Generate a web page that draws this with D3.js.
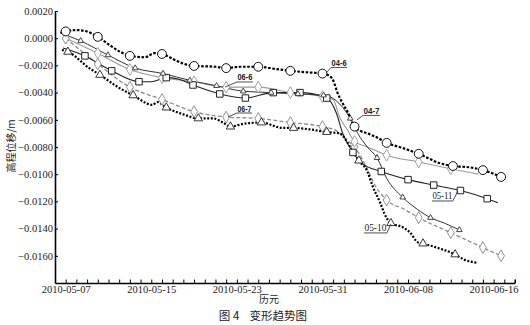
<!DOCTYPE html>
<html><head><meta charset="utf-8">
<script src="https://cdn.jsdelivr.net/npm/d3@7"></script>
<style>body{margin:0;background:#fff}svg{display:block}
.ser{font-family:'Liberation Serif','DejaVu Serif',serif}
.cjk{font-family:'Noto Sans CJK SC',sans-serif}
</style>
</head><body>
<svg id="c" width="530" height="325"></svg>
<script>
// ---- data (days since 2010-05-07, values in m) ----
const baseDate = "2010-05-07";
const xDomainDates = ["2010-05-06", "2010-06-18"];
const xTickLabels = ["2010-05-07","2010-05-15","2010-05-23","2010-05-31","2010-06-08","2010-06-16"];
const yTicks = [0.002,0,-0.002,-0.004,-0.006,-0.008,-0.010,-0.012,-0.014,-0.016];
const yDomain = [-0.018, 0.002];

// 04-6 (circles)
const s046Days = [-0.5,0,1,1.8,3,4.1,5.1,6,7.4,8.3,9,10.2,11.1,12,14,15,16.3,18,19.6,21,22.4,24,24.5,25,25.4,25.9,26.4,27,27.5,28.2,29.1,30,31.2,33,35,36.2,37.8,39,40.7];
const s046Vals = [0.0004,0.0005,0.0006,0.00053,0.0001,-0.0005,-0.001,-0.0013,-0.0014,-0.0011,-0.00116,-0.0016,-0.0019,-0.00204,-0.0021,-0.0022,-0.0021,-0.0021,-0.00226,-0.0024,-0.0025,-0.0026,-0.0027,-0.0031,-0.004,-0.0048,-0.0055,-0.0065,-0.0068,-0.007,-0.0073,-0.0077,-0.008,-0.0085,-0.0092,-0.0094,-0.0095,-0.0097,-0.0102];
const s046Mark = [0,1,0,0,1,0,0,1,0,0,1,0,0,1,0,1,0,1,0,1,0,1,0,0,0,0,0,1,0,0,0,1,0,1,0,1,0,1,1];

// 04-7 (small triangles)
const s047Days = [-0.5,1.4,3.95,6.5,9.1,11.6,14.1,16.6,19.2,21.7,24.1,24.7,25.9,26.6,27.3,28.2,29.1,30.0,31.5,32.9,34.1,35.4,36.8];
const s047Vals = [0.00038,-0.0002,-0.00124,-0.0022,-0.0026,-0.0031,-0.0035,-0.0039,-0.004,-0.0041,-0.0042,-0.0043,-0.0051,-0.0059,-0.007,-0.008,-0.0088,-0.0103,-0.0117,-0.0126,-0.0132,-0.0136,-0.0141];
const s047Mark = [0,1,1,1,1,1,1,1,1,1,1,0,0,1,0,0,1,0,1,0,1,0,1];

// 06-6 (diamonds, solid grey)
const s066Days = [0,3,6,9,12,15,18,21,24,25,25.6,26.3,27,28.2,30,33,36,38.6];
const s066Vals = [0,-0.0011,-0.0023,-0.0029,-0.0032,-0.0036,-0.0036,-0.004,-0.0043,-0.0045,-0.0058,-0.0067,-0.0076,-0.008,-0.0086,-0.0091,-0.0096,-0.01];
const s066Mark = [1,1,1,1,1,1,1,1,1,0,0,0,1,0,1,1,1,0];

// 05-11 (squares)
const s0511Days = [-0.25,1.8,4.3,6.85,8.0,9.4,10.5,11.9,14.4,16.8,19.4,21.9,24.4,25.3,25.9,26.85,27.7,29.5,32,34.4,36.9,39.4,40.4];
const s0511Vals = [-0.00072,-0.0013,-0.0024,-0.0032,-0.0032,-0.0029,-0.003,-0.00344,-0.0041,-0.0044,-0.004,-0.004,-0.0044,-0.0055,-0.007,-0.0084,-0.0092,-0.0098,-0.0104,-0.0108,-0.0112,-0.0118,-0.0121];
const s0511Mark = [0,1,1,1,0,1,0,1,1,1,1,1,1,0,0,1,0,1,1,1,1,1,0];

// 06-7 (diamonds, dashed grey)
const s067Days = [0,3,6,9,12,15,18,21,24,25.3,26.3,27,28,28.9,30,31.7,33,36,39,40.7];
const s067Vals = [0,-0.0019,-0.0036,-0.0045,-0.0054,-0.0058,-0.0059,-0.0062,-0.0065,-0.0068,-0.0075,-0.008,-0.0093,-0.0108,-0.0119,-0.0126,-0.0132,-0.0143,-0.0154,-0.016];
const s067Mark = [1,1,1,1,1,1,1,1,1,0,0,1,0,0,1,0,1,1,1,1];

// 05-10 (triangles, heavy dotted)
const s0510Days = [-0.35,0.2,2.2,3.2,5.1,6.3,8.1,8.6,9.4,11,12.4,13.8,14.7,15.4,16.6,18.3,20.3,21.3,22.8,24.4,25.6,26.6,27.4,28.2,28.7,29.4,29.8,30.4,31.5,32.2,32.9,33.4,34.7,36.4,37.3,38.4];
const s0510Vals = [-0.00087,-0.001,-0.0022,-0.0027,-0.0037,-0.0042,-0.0049,-0.0047,-0.0051,-0.0056,-0.0059,-0.0059,-0.0062,-0.0065,-0.0063,-0.0062,-0.0066,-0.0066,-0.0067,-0.0069,-0.007,-0.008,-0.009,-0.0098,-0.0109,-0.0121,-0.0129,-0.0136,-0.0139,-0.0143,-0.015,-0.0151,-0.0154,-0.0159,-0.0163,-0.0165];
const s0510Mark = [0,1,0,1,0,1,0,0,1,0,1,0,0,1,0,1,0,1,0,1,0,0,1,0,0,0,0,1,0,0,0,1,0,1,0,0];

// annotation labels: text, underline start/end day, underline value, target day/value
const annText = ["04-6","06-6","06-7","04-7","05-11","05-10"];
const annX1 = [24.81,16.01,16.01,27.79,34.23,27.88];
const annX2 = [26.31,17.50,17.41,29.38,36.19,30.03];
const annY  = [-0.00215,-0.00322,-0.0055,-0.00568,-0.01197,-0.01432];
const annTX = [24.33,14.89,15.17,27.22,36.66,30.40];
const annTY = [-0.00256,-0.00359,-0.00579,-0.00601,-0.01124,-0.01366];
const annFromEnd = [0,0,0,0,1,1];

// ---- drawing ----
const svg = d3.select("#c");
const day = 864e5;
const t0 = Date.parse(baseDate + "T00:00:00Z");
const toDate = d => new Date(t0 + d * day);

const x = d3.scaleUtc().domain(xDomainDates.map(s => new Date(s + "T00:00:00Z"))).range([55, 515]);
const y = d3.scaleLinear().domain(yDomain).range([283, 11]);

const fmtDate = d3.utcFormat("%Y-%m-%d");
const labelSet = new Set(xTickLabels);

// x axis
const gx = svg.append("g").attr("transform", "translate(0,283)")
  .call(d3.axisBottom(x).ticks(d3.utcDay.every(1)).tickSize(-3.5).tickSizeOuter(0).tickPadding(2.5)
    .tickFormat(d => labelSet.has(fmtDate(d)) ? fmtDate(d) : ""));
gx.attr("font-family", null).attr("font-size", null);
gx.select(".domain").attr("stroke", "#000").attr("stroke-width", 1.6);
gx.selectAll(".tick line").attr("stroke", "#000").attr("stroke-width", 1);
gx.selectAll(".tick text").attr("class", "ser").style("font-size", "10.5px").attr("fill", "#222");
gx.append("line").attr("x1", x.range()[1]).attr("x2", x.range()[1]).attr("y1", 0).attr("y2", -3.5).attr("stroke", "#000");

// y axis
const gy = svg.append("g").attr("transform", "translate(55,0)")
  .call(d3.axisLeft(y).tickValues(yTicks).tickSize(-3).tickSizeOuter(0).tickPadding(2)
    .tickFormat(d3.format(".4f")));
gy.attr("font-family", null).attr("font-size", null);
gy.select(".domain").attr("stroke", "#000").attr("stroke-width", 1.6);
gy.selectAll(".tick line").attr("stroke", "#000");
gy.selectAll(".tick text").attr("class", "ser").style("font-size", "10.5px").attr("fill", "#222");

// axis titles
svg.append("text").attr("class", "cjk").attr("transform", "translate(15,146) rotate(-90)").attr("text-anchor", "middle")
  .style("font-size", "10px").attr("fill", "#222").text("高程位移/m");
svg.append("text").attr("class", "cjk").attr("x", 269).attr("y", 303).attr("text-anchor", "middle")
  .style("font-size", "10px").attr("fill", "#222").text("历元");
svg.append("text").attr("class", "cjk").attr("x", 263).attr("y", 320).attr("text-anchor", "middle")
  .style("font-size", "11.5px").attr("fill", "#222")
  .attr("xml:space", "preserve").text("图 4    变形趋势图");

// series
const series = [
  {days: s067Days, vals: s067Vals, mark: s067Mark, stroke: "#8a8a8a", w: 1.3, dash: "4,2.2", sym: d3.symbolDiamond, size: 40, ms: "#888", mw: 0.9},
  {days: s066Days, vals: s066Vals, mark: s066Mark, stroke: "#9a9a9a", w: 1.1, dash: null, sym: d3.symbolDiamond, size: 40, ms: "#999", mw: 0.9},
  {days: s0511Days, vals: s0511Vals, mark: s0511Mark, stroke: "#222", w: 1.1, dash: null, sym: d3.symbolSquare, size: 42, ms: "#222", mw: 1},
  {days: s047Days, vals: s047Vals, mark: s047Mark, stroke: "#333", w: 1.0, dash: null, sym: d3.symbolTriangle, size: 14, ms: "#333", mw: 0.9},
  {days: s0510Days, vals: s0510Vals, mark: s0510Mark, stroke: "#000", w: 2.2, dash: "2,1.6", sym: d3.symbolTriangle, size: 30, ms: "#222", mw: 0.9},
  {days: s046Days, vals: s046Vals, mark: s046Mark, stroke: "#000", w: 2.2, dash: "2.6,1.6", sym: d3.symbolCircle, size: 62, ms: "#111", mw: 1}
];

const line = d3.line().x(p => x(toDate(p[0]))).y(p => y(p[1])).curve(d3.curveMonotoneX);

series.forEach(s => {
  const pts = s.days.map((d, i) => [d, s.vals[i], s.mark[i]]);
  svg.append("path").datum(pts).attr("d", line).attr("fill", "none")
    .attr("stroke", s.stroke).attr("stroke-width", s.w).attr("stroke-dasharray", s.dash);
});
series.forEach(s => {
  const pts = s.days.map((d, i) => [d, s.vals[i], s.mark[i]]).filter(p => p[2]);
  svg.append("g").selectAll("path").data(pts).join("path")
    .attr("transform", p => `translate(${x(toDate(p[0]))},${y(p[1])})`)
    .attr("d", d3.symbol().type(s.sym).size(s.size))
    .attr("fill", "#fff").attr("stroke", s.ms).attr("stroke-width", s.mw);
});

// annotations
annText.forEach((t, i) => {
  const x1 = x(toDate(annX1[i])), x2 = x(toDate(annX2[i])), yy = y(annY[i]);
  const g = svg.append("g");
  g.append("line").attr("x1", x1).attr("x2", x2).attr("y1", yy).attr("y2", yy).attr("stroke", "#222").attr("stroke-width", 0.8);
  const sx = annFromEnd[i] ? x2 : x1;
  g.append("line").attr("x1", sx).attr("y1", yy).attr("x2", x(toDate(annTX[i]))).attr("y2", y(annTY[i]))
    .attr("stroke", "#222").attr("stroke-width", 0.8);
  const serif = t.length > 4;
  g.append("text").attr("x", (x1 + x2) / 2).attr("y", yy - 1.5).attr("text-anchor", "middle")
    .attr("class", serif ? "ser" : null)
    .style("font-family", serif ? null : "'Liberation Sans',sans-serif")
    .style("font-weight", serif ? "normal" : "bold")
    .style("font-size", serif ? "10.5px" : "9.5px")
    .attr("textLength", x2 - x1 - 1).attr("lengthAdjust", "spacingAndGlyphs")
    .attr("fill", "#222").text(t);
});
</script>
</body></html>
